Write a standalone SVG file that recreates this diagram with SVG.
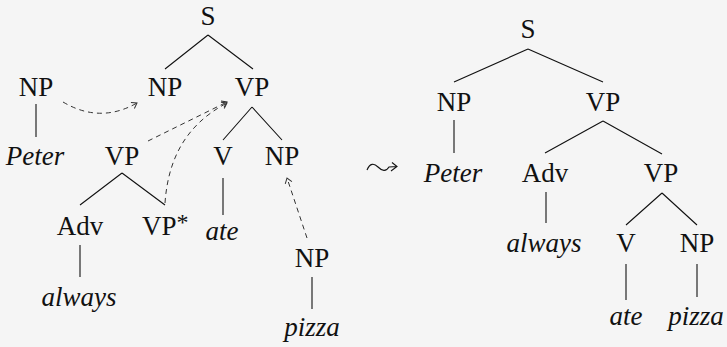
<svg xmlns="http://www.w3.org/2000/svg" width="727" height="347" viewBox="0 0 727 347">
<defs>
<style>
text{font-family:"Liberation Serif","DejaVu Serif",serif;font-size:27px;fill:#111;text-anchor:middle}
.it{font-style:italic}
.e{stroke:#111;stroke-width:1.1;fill:none}
.d{stroke:#333;stroke-width:1;fill:none;stroke-dasharray:5 4;marker-end:url(#ah)}
</style>
<marker id="ah" markerWidth="10" markerHeight="10" refX="7" refY="5" orient="auto" markerUnits="userSpaceOnUse">
<path d="M2,1.5 L7,5 L2,8.5" fill="none" stroke="#333" stroke-width="1"/>
</marker>
</defs>
<rect width="727" height="347" fill="#f5f5f5"/>
<g id="connectors">
<path class="e" d="M208,35 L165,69 M208,35 L253,69"/>
<path class="e" d="M36,104 L36,137"/>
<path class="e" d="M252,107 L223,140 M252,107 L282,140"/>
<path class="e" d="M122,173 L80,205 M122,173 L165,205"/>
<path class="e" d="M223,178 L223,215"/>
<path class="e" d="M80,245 L80,277"/>
<path class="e" d="M312,277 L312,309"/>
<path class="d" d="M63,102 Q100,124 137,103"/>
<path class="d" d="M148,141 L227,102"/>
<path class="d" d="M165,203 C168,160 185,125 227,103"/>
<path class="d" d="M307,238 L287,178"/>
<path class="e" d="M528,49 L454,82 M528,49 L603,82"/>
<path class="e" d="M454,120 L454,153"/>
<path class="e" d="M603,121 L545,153 M603,121 L662,154"/>
<path class="e" d="M546,192 L546,223"/>
<path class="e" d="M662,193 L626,225 M662,193 L697,225"/>
<path class="e" d="M626,264 L626,300"/>
<path class="e" d="M697,264 L697,297"/>
<path class="e" d="M367,170 C370,163 374,163 378,167 C382,171 386,172 389,167 L397,166.5 M392,162.5 L397,166.5 L391,171"/>
</g>
<g id="l-S"><text x="208" y="25">S</text></g>
<g id="l-NP0"><text x="36" y="96">NP</text></g>
<g id="l-NP1"><text x="165" y="96">NP</text></g>
<g id="l-VP1"><text x="252" y="96">VP</text></g>
<g id="l-Peter"><text class="it" x="35" y="165">Peter</text></g>
<g id="l-VPaux"><text x="122" y="165">VP</text></g>
<g id="l-V"><text x="223" y="165">V</text></g>
<g id="l-NP2"><text x="282" y="165">NP</text></g>
<g id="l-Adv"><text x="80" y="235">Adv</text></g>
<g id="l-VPstar"><text x="142" y="235" style="text-anchor:start">VP<tspan font-size="24" dy="-5">*</tspan></text></g>
<g id="l-ate"><text class="it" x="222" y="240">ate</text></g>
<g id="l-NP3"><text x="312" y="267">NP</text></g>
<g id="l-always"><text class="it" x="79" y="306">always</text></g>
<g id="l-pizza"><text class="it" x="312" y="336">pizza</text></g>
<g id="r-S"><text x="528" y="38">S</text></g>
<g id="r-NP"><text x="454" y="111">NP</text></g>
<g id="r-VP"><text x="603" y="111">VP</text></g>
<g id="r-Peter"><text class="it" x="453" y="182">Peter</text></g>
<g id="r-Adv"><text x="545" y="182">Adv</text></g>
<g id="r-VP2"><text x="661" y="182">VP</text></g>
<g id="r-always"><text class="it" x="544" y="252">always</text></g>
<g id="r-V"><text x="626" y="252">V</text></g>
<g id="r-NP2"><text x="697" y="252">NP</text></g>
<g id="r-ate"><text class="it" x="626" y="325">ate</text></g>
<g id="r-pizza"><text class="it" x="696" y="325">pizza</text></g>
</svg>
